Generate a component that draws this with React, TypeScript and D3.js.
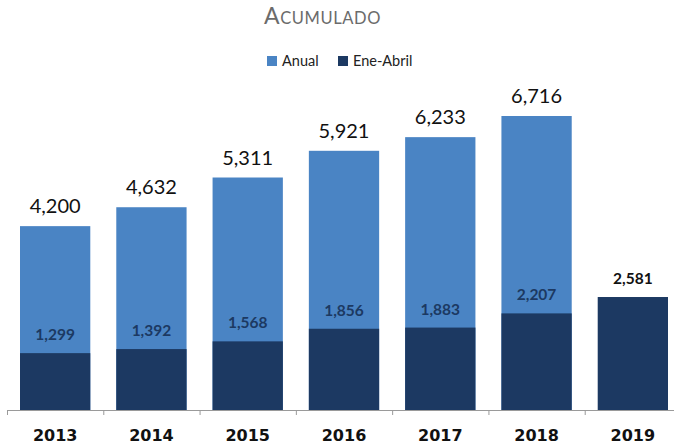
import React from "react";
import * as d3 from "d3";

const years = ["2013", "2014", "2015", "2016", "2017", "2018", "2019"];
const anual: (number | null)[] = [4200, 4632, 5311, 5921, 6233, 6716, null];
const eneAbril = [1299, 1392, 1568, 1856, 1883, 2207, 2581];

const W = 674;
const H = 445;
const LIGHT = "#4a84c4";
const DARK = "#1c3962";

export default function App() {
  const x = d3.scaleBand<string>().domain(years).range([7, 681]).paddingInner(0.27).paddingOuter(0.135);
  const y = d3.scaleLinear().domain([0, 6716]).range([410, 116]);
  const step = x.step();
  const fmt = d3.format(",");
  const font = "Lato, 'Open Sans', sans-serif";
  return (
    <svg width={W} height={H} style={{ position: "absolute", left: 0, top: 0 }}>
      <rect width={W} height={H} fill="#fff" />
      <text x={264} y={24} fill="#6b6b6b" fontFamily={font} style={{ letterSpacing: "0.6px" }}>
        <tspan fontSize={23}>A</tspan>
        <tspan fontSize={16.5}>CUMULADO</tspan>
      </text>
      <rect x={267} y={56} width={10} height={10} fill={LIGHT} />
      <text x={282} y={66} fontSize={14.5} fontFamily={font} fill="#222">Anual</text>
      <rect x={338} y={56} width={10} height={10} fill={DARK} />
      <text x={353} y={66} fontSize={14.5} fontFamily={font} fill="#222">Ene-Abril</text>
      {years.map((yr, i) => {
        const a = anual[i];
        const e = eneAbril[i];
        const bx = x(yr)!;
        const bw = x.bandwidth();
        const cx = bx + bw / 2;
        return (
          <g key={yr}>
            {a != null && <rect x={bx} y={y(a)} width={bw} height={410 - y(a)} fill={LIGHT} />}
            <rect x={bx} y={y(e)} width={bw} height={410 - y(e)} fill={DARK} />
            {a != null && (
              <text x={cx} y={y(a) - 13} textAnchor="middle" fontSize={20} fontFamily={font} fill="#111">
                {fmt(a)}
              </text>
            )}
            <text
              x={cx}
              y={y(e) - 13}
              textAnchor="middle"
              fontSize={15.5}
              fontWeight={700}
              fontFamily={font}
              fill={a != null ? DARK : "#111"}
            >
              {fmt(e)}
            </text>
            <text x={cx} y={441} textAnchor="middle" fontSize={16} fontWeight={700} fontFamily="'DejaVu Sans', sans-serif" fill="#111">
              {yr}
            </text>
          </g>
        );
      })}
      <line x1={7} x2={674} y1={410.5} y2={410.5} stroke="#9a9a9a" strokeWidth={1} />
      {years.map((yr, i) => {
        const tx = 7 + i * step;
        return <line key={"t" + yr} x1={tx + 0.5} x2={tx + 0.5} y1={410} y2={415} stroke="#9a9a9a" />;
      })}
    </svg>
  );
}
